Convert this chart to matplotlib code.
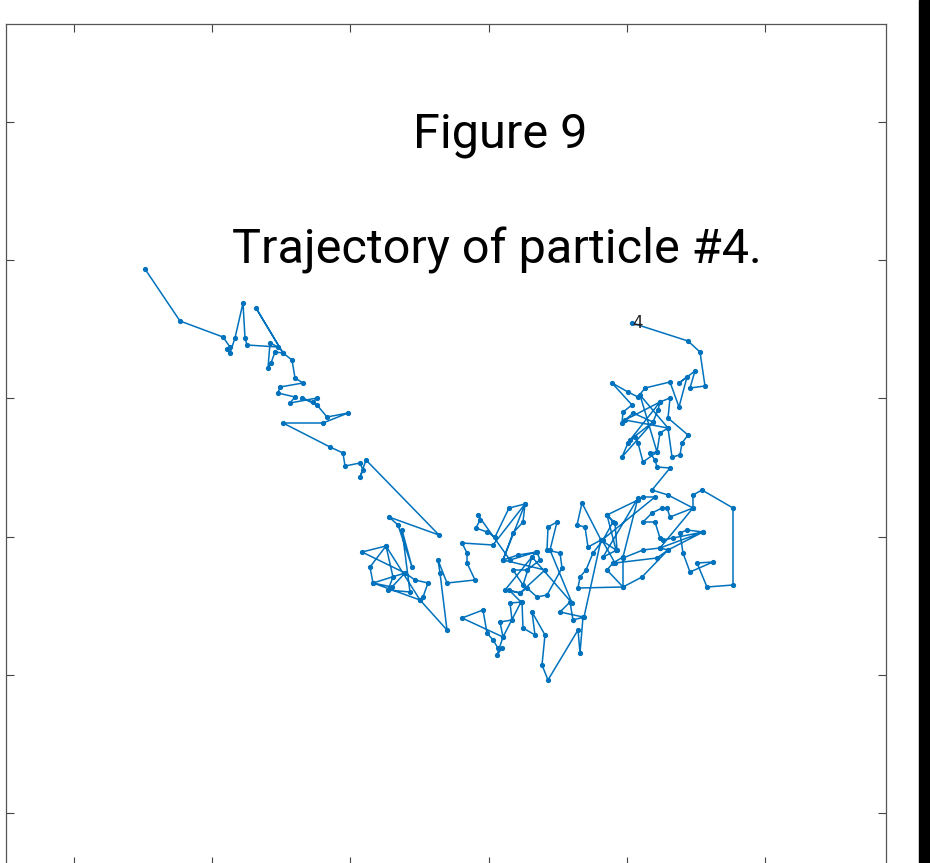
import matplotlib.pyplot as plt
import matplotlib.patches as patches

# trajectory of particle #4 (screen-like units, y grows downward)
traj_x = [632, 688, 700, 705, 690, 695, 679, 687, 679, 670, 645, 638, 628, 612, 632, 623, 622, 633,
          653, 658, 660, 670, 668, 688, 682, 680, 672, 668, 660, 657, 643, 638, 635, 628, 622,
          653, 630, 660, 625, 668, 640, 657,
          650, 655, 657, 670, 652, 668, 693, 693, 702, 733, 733, 707, 697, 713, 690, 683, 680, 687, 703,
          673, 663, 660, 655, 643, 652, 662, 667, 670,
          693, 660, 703, 668,
          642, 623, 623, 643, 660, 668, 657, 615, 602,
          655, 643, 638, 607, 613, 603, 593, 586, 580, 578, 623, 607, 613, 623, 638, 603, 617, 615,
          607, 616, 601, 588, 585, 577, 582, 601, 584, 573, 570, 560, 583, 580, 578, 548, 542, 545,
          532, 535, 523, 522, 510, 512, 500, 503, 497, 502, 498, 493, 487, 483, 462, 503, 521, 509,
          520, 527, 537, 547, 562, 560, 547, 548, 557, 550, 572, 532, 523, 513, 527, 540, 537, 518,
          503, 513, 523, 525, 509, 495, 487, 476, 480, 478,
          510, 536, 505, 520, 545, 503, 525,
          493, 462, 467, 467, 475, 447, 438, 440,
          447, 420, 423, 428, 415, 405, 392, 373, 370, 386, 362,
          405, 373, 420, 386,
          393, 388, 410, 402, 412, 398, 389,
          439, 366, 360, 363, 360, 345, 343, 330, 283, 323, 348, 327, 317, 302, 313, 317, 290, 295,
          278, 280, 303, 295, 292, 283, 256, 283, 275, 271, 268, 270, 278, 247, 245, 243, 235, 230,
          227, 230, 223, 180, 145]
traj_y = [323, 341, 352, 386, 388, 371, 383, 377, 407, 382, 388, 397, 392, 383, 405, 412, 423, 413,
          422, 410, 402, 398, 418, 435, 443, 455, 457, 428, 433, 452, 462, 443, 437, 443, 457,
          422, 440, 402, 420, 428, 395, 452,
          453, 460, 467, 468, 490, 495, 508, 495, 490, 508, 585, 587, 563, 562, 572, 553, 533, 530, 532,
          538, 540, 538, 522, 522, 513, 508, 508, 517,
          508, 548, 532, 550,
          577, 587, 558, 550, 548, 550, 558, 563, 540,
          497, 497, 500, 515, 522, 540, 553, 570, 577, 588, 587, 570, 563, 557, 498, 557, 550, 523,
          515, 550, 540, 547, 527, 525, 503, 540, 617, 620, 602, 612, 617, 653, 630, 680, 665, 635,
          612, 635, 628, 602, 603, 620, 622, 637, 655, 648, 648, 640, 633, 610, 618, 637, 602, 590,
          593, 588, 597, 595, 568, 553, 550, 527, 522, 550, 603, 557, 585, 570, 570, 560, 552, 555,
          560, 533, 522, 504, 508, 537, 532, 528, 520, 515,
          560, 552, 590, 593, 570, 560, 504,
          545, 543, 553, 563, 580, 583, 560, 573,
          630, 600, 597, 583, 580, 573, 587, 583, 567, 546, 552,
          573, 583, 600, 546,
          577, 590, 592, 530, 567, 525, 517,
          535, 460, 477, 470, 463, 466, 453, 447, 423, 423, 413, 417, 405, 398, 402, 398, 403, 397,
          393, 387, 383, 378, 360, 353, 308, 353, 352, 363, 368, 343, 347, 345, 338, 303, 338, 353,
          349, 347, 337, 321, 269]
particle_id = '4'
tick_pos = [74, 212.2, 350.4, 488.6, 626.8, 765]
ytick_pos = [122, 260.2, 398.4, 536.6, 674.8, 813]

fig = plt.figure(figsize=(9.3, 8.63), dpi=100)
ax = fig.add_axes([5.7/930, -2/863, 880/930, 841/863])

ax.plot(traj_x, traj_y, '.-', color='#0072BD', lw=1.1, ms=5.5)
ax.text(traj_x[0], traj_y[0], particle_id, fontsize=12, ha='left', va='center', color='#222222')

ax.set_xlim(5.7, 885.7)
ax.set_ylim(865, 24)
ax.set_xticks(tick_pos)
ax.set_yticks(ytick_pos)
ax.tick_params(direction='in', length=6, width=0.8, color='#444444',
               top=True, right=True, labelbottom=False, labelleft=False)
for s in ax.spines.values():
    s.set_color('#555555')
    s.set_linewidth(0.9)

fig.text(500/930, 1 - 148/863, 'Figure 9', fontsize=35, family='Roboto',
         ha='center', va='baseline')
fig.text(497/930, 1 - 263/863, 'Trajectory of particle #4.', fontsize=35, family='Roboto',
         ha='center', va='baseline')

# dark strip on the right edge
fig.patches.append(patches.Rectangle((919/930, 0), 11/930, 1, transform=fig.transFigure,
                                     color='black', zorder=10))

fig.savefig('out.png', dpi=100)
